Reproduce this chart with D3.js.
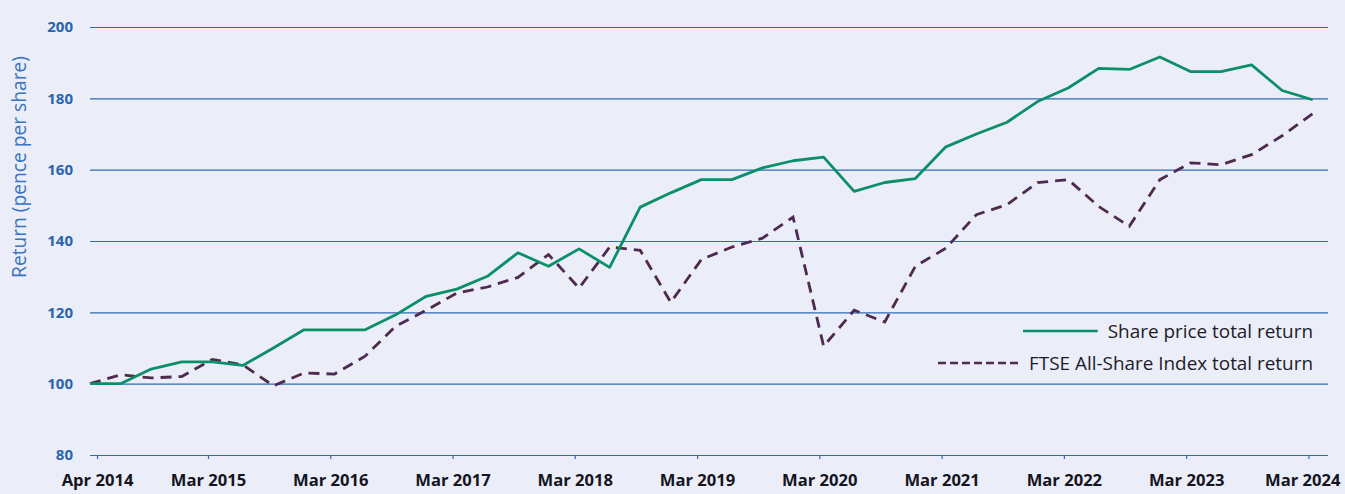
<!DOCTYPE html>
<html>
<head>
<meta charset="utf-8">
<script src="https://cdn.jsdelivr.net/npm/d3@7"></script>
<style>
  body { margin: 0; background: #ebedf8; }
  svg { display: block; font-family: "Open Sans", sans-serif; }
</style>
</head>
<body>
<div id="chart"></div>
<script>
(function(){

  // quarterly points, Mar 2014 -> Mar 2024
  var sharePrice = [100, 100, 104.1, 106.1, 106.1, 105.1, 110, 115.1, 115.1, 115.1,
    119.3, 124.5, 126.5, 130.1, 136.7, 132.9, 137.8, 132.6, 149.5, 153.5,
    157.2, 157.2, 160.5, 162.5, 163.5, 153.9, 156.4, 157.5, 166.4, 170.0,
    173.3, 179.1, 182.9, 188.4, 188.1, 191.6, 187.5, 187.5, 189.4, 182.2, 179.6]

  var ftseAllShare = [100, 102.5, 101.6, 102.0, 106.8, 105.3, 99.4, 103.0, 102.7, 107.7,
    116.1, 120.6, 125.4, 127.1, 129.8, 136.2, 126.8, 138.3, 137.4, 122.8,
    134.8, 138.3, 140.8, 146.7, 110.5, 120.6, 117.3, 132.9, 138.0, 147.4,
    150.2, 156.4, 157.2, 149.7, 144.1, 157.2, 161.9, 161.4, 164.2, 169.5, 175.7]

  // x tick labels and where they fall (in quarters from the first point)
  var xTickLabels = ["Apr 2014", "Mar 2015", "Mar 2016", "Mar 2017", "Mar 2018", "Mar 2019",
    "Mar 2020", "Mar 2021", "Mar 2022", "Mar 2023", "Mar 2024"]
  var xTickPos = [0.23, 3.86, 7.86, 11.86, 15.86, 19.86, 23.86, 27.86, 31.86, 35.86, 39.86]

  var yTicks = [80, 100, 120, 140, 160, 180, 200]

  var seriesNames = ["Share price total return", "FTSE All-Share Index total return"]

  var width = 1345,
    height = 494

  var svg = d3.select("#chart")
    .append("svg")
    .attr("width", width)
    .attr("height", height)

  svg.append("rect")
    .attr("width", width)
    .attr("height", height)
    .attr("fill", "#ebedf8")

  var x = d3.scaleLinear().domain([0, 40]).range([90, 1312.7])
  var y = d3.scaleLinear().domain([80, 200]).range([455, 27])

  // gridlines + y labels
  var yAxis = d3.axisLeft(y)
    .tickValues(yTicks)
    .tickSize(-(1328 - 90))
    .tickPadding(17)

  var gy = svg.append("g")
    .attr("transform", "translate(90,0)")
    .call(yAxis)
  gy.select(".domain").remove()
  gy.selectAll(".tick line")
    .attr("stroke", "#2f6bb5")
    .attr("stroke-width", 1.1)
  gy.selectAll(".tick text")
    .attr("fill", "#2a64ae")
    .attr("font-size", 15)
    .attr("font-weight", 700)
    .attr("font-family", "'Open Sans', sans-serif")

  // y title
  svg.append("text")
    .attr("transform", "translate(26,167) rotate(-90)")
    .attr("text-anchor", "middle")
    .attr("fill", "#3a74c2")
    .attr("font-size", 19.2)
    .text("Return (pence per share)")

  // x axis ticks and labels
  var xAxis = d3.axisBottom(x)
    .tickValues(xTickPos)
    .tickSize(4)
    .tickPadding(15)
    .tickFormat(function(d, i) { return xTickLabels[i] })

  var gx = svg.append("g")
    .attr("transform", "translate(0,455)")
    .call(xAxis)
  gx.select(".domain").remove()
  gx.selectAll(".tick line")
    .attr("stroke", "#2f6bb5")
    .attr("stroke-width", 1.2)
  gx.selectAll(".tick text")
    .attr("fill", "#151522")
    .attr("font-size", 16.6)
    .attr("font-weight", 700)
    .attr("font-family", "'Open Sans', sans-serif")

  // last label sits a little left so it stays on the page
  gx.selectAll(".tick text")
    .filter(function(d, i) { return i === xTickPos.length - 1 })
    .attr("text-anchor", "end")
    .attr("x", function(d) { return 1340 - x(d) })

  var line = d3.line()
    .x(function(d, i) { return x(i) })
    .y(function(d) { return y(d) })

  svg.append("path")
    .datum(ftseAllShare)
    .attr("d", line)
    .attr("fill", "none")
    .attr("stroke", "#4d2a4f")
    .attr("stroke-width", 2.8)
    .attr("stroke-dasharray", "11,7")

  svg.append("path")
    .datum(sharePrice)
    .attr("d", line)
    .attr("fill", "none")
    .attr("stroke", "#0b8f68")
    .attr("stroke-width", 2.8)
    .attr("stroke-linejoin", "round")

  // legend
  var legend = svg.append("g")
  var legendRows = [
    { name: seriesNames[0], y: 331, x1: 1023, color: "#0b8f68", dash: null },
    { name: seriesNames[1], y: 363, x1: 938, color: "#4d2a4f", dash: "8,4" }
  ]
  legendRows.forEach(function(r) {
    var t = legend.append("text")
      .attr("x", 1313)
      .attr("y", r.y)
      .attr("dy", "0.35em")
      .attr("text-anchor", "end")
      .attr("fill", "#1c1c28")
      .attr("font-size", 18.9)
      .text(r.name)
    var w = t.node().getComputedTextLength()
    legend.append("line")
      .attr("x1", r.x1)
      .attr("x2", 1313 - w - 10)
      .attr("y1", r.y)
      .attr("y2", r.y)
      .attr("stroke", r.color)
      .attr("stroke-width", 2.6)
      .attr("stroke-dasharray", r.dash)
  })

})();
</script>
</body>
</html>
